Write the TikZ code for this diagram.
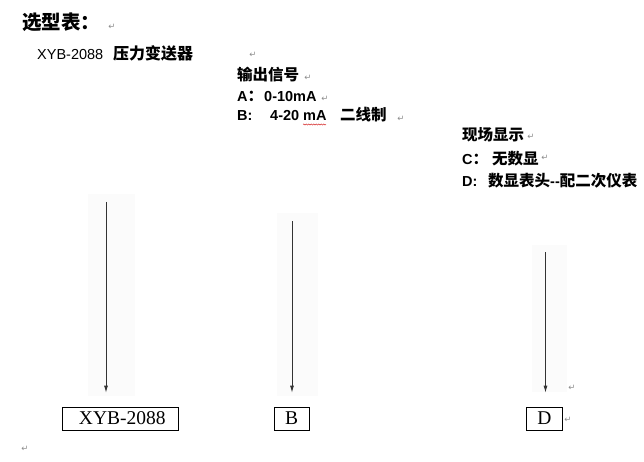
\documentclass[tikz,border=0pt]{standalone}
\usepackage{fontspec}
\setmainfont{Liberation Sans}
\newfontfamily\cjk{Noto Sans CJK SC}
\newfontfamily\tnr{Liberation Serif}
\newfontfamily\djv{DejaVu Sans}
\usetikzlibrary{arrows.meta,decorations.pathmorphing}
\newcommand\zh[2][15.5]{{\cjk\bfseries\fontsize{#1}{#1}\selectfont #2}}
\begin{document}
\begin{tikzpicture}[x=1pt,y=1pt,
  txt/.style={anchor=base west, inner sep=0pt, font=\fontsize{14.5}{17}\selectfont},
  btxt/.style={txt, font=\fontsize{14.5}{17}\selectfont\bfseries},
  para/.style={inner sep=0pt, text=black!45, font=\djv\fontsize{8.5}{8.5}\selectfont},
  lbl/.style={draw, line width=0.8pt, inner sep=0pt, minimum height=23pt, font=\tnr\fontsize{19.5}{20}\selectfont},
  arr/.style={-{Latex[length=7pt,width=4pt]}, line width=0.8pt, draw=black!80},
  imgbg/.style={fill=black!1.5, draw=none},
  wavy/.style={draw=red!80!black, line width=0.4pt, decorate, decoration={snake,amplitude=0.6pt,segment length=2.5pt}}]
\useasboundingbox (0,0) rectangle (644,-462);
% faint image backgrounds
\fill[imgbg] (88,-194) rectangle (135,-396);
\fill[imgbg] (277,-213) rectangle (318,-396);
\fill[imgbg] (532,-245) rectangle (567,-392);
% texts
\node[txt] (title) at (22,-30) {\zh[19.5]{选型表：}};
\node[txt] (model) at (37,-60) {\makebox[76pt][l]{XYB-2088}\zh[16]{压力变送器}};
\node[txt] (outh) at (237,-81) {\zh{输出信号}};
\node[btxt] (outa) at (237,-102) {\makebox[27pt][l]{A\zh{：}}0-10mA};
\node[btxt] (outb) at (237,-121) {\makebox[33pt][l]{B:}\makebox[70pt][l]{4-20 mA}\zh{二线制}};
\draw[wavy] (303,-124.5) -- (326,-124.5);
\node[txt] (disph) at (462,-141) {\zh{现场显示}};
\node[btxt] (dispc) at (462,-165) {\makebox[30pt][l]{C\zh{：}}\zh{无数显}};
\node[btxt] (dispd) at (462,-187) {\makebox[26pt][l]{D:}\zh{数显表头}-{}-\zh{配二次仪表}};
% paragraph marks
\node[para] (p1) at (112,-27) {↵};
\node[para] (p2) at (253,-55) {↵};
\node[para] (p3) at (308,-78) {↵};
\node[para] (p4) at (325,-99) {↵};
\node[para] (p5) at (401,-119) {↵};
\node[para] (p6) at (531,-137) {↵};
\node[para] (p7) at (545,-158) {↵};
\node[para] (p8) at (572,-388) {↵};
\node[para] (p9) at (568,-420) {↵};
\node[para] (p10) at (25,-449) {↵};
% boxes
\node[lbl, minimum width=116pt] (bx1) at (120,-418.5) {\hspace*{4.6pt}XYB-2088};
\node[lbl, minimum width=35pt] (bx2) at (291.7,-418.5) {B};
\node[lbl, minimum width=36.7pt] (bx3) at (544.3,-418.5) {D};
% arrows
\coordinate (t1) at (106,-202);
\coordinate (t2) at (292,-221);
\coordinate (t3) at (545.5,-252);
\draw[arr, shorten >=14pt] (t1) -- (t1 |- bx1.north);
\draw[arr, shorten >=14pt] (t2) -- (t2 |- bx2.north);
\draw[arr, shorten >=14pt] (t3) -- (t3 |- bx3.north);
\end{tikzpicture}
\end{document}
